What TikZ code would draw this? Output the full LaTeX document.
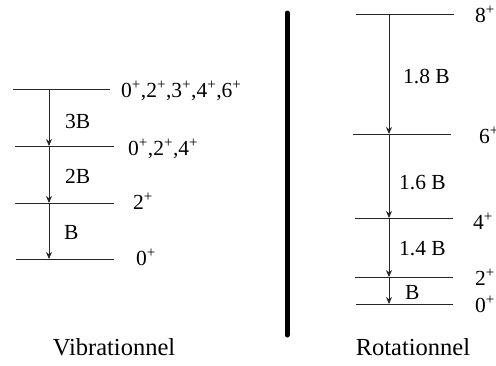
\documentclass[tikz,border=0pt]{standalone}
\usepackage{fontspec}
\setmainfont{Liberation Serif}
\usetikzlibrary{arrows.meta}
\newcommand{\p}{\textsuperscript{+}}
\begin{document}
\begin{tikzpicture}[x=1pt,y=-1pt,
  levelline/.style={line width=0.9pt,draw=black!85},
  trans/.style={line width=0.8pt,draw=black!85,-{Stealth[length=7pt,width=6pt]}},
  lab/.style={font=\fontsize{21.5}{23}\selectfont,inner sep=0pt,anchor=base west},
  title/.style={font=\fontsize{24.5}{27}\selectfont,inner sep=0pt,anchor=base}]
\useasboundingbox (0,0) rectangle (496,365);
% vibrational
\coordinate (v1) at (49,89);
\coordinate (v2) at (49,146);
\coordinate (v3) at (49,203);
\coordinate (v4) at (49,259);
\draw[levelline] (13,89) -- (110,89);
\draw[levelline] (15,146) -- (114,146);
\draw[levelline] (15,203) -- (114,203);
\draw[levelline] (16,259) -- (114,259);
\draw[trans] (v1) -- (v2);
\draw[trans] (v2) -- (v3);
\draw[trans] (v3) -- (v4);
\node[lab] (l3b) at (65,128) {3B};
\node[lab] (l2b) at (65,183) {2B};
\node[lab] (l1b) at (64,239) {B};
\node[lab] (s1) at (121,97) {0\p,2\p,3\p,4\p,6\p};
\node[lab] (s2) at (128,155) {0\p,2\p,4\p};
\node[lab] (s3) at (133,209) {2\p};
\node[lab] (s4) at (136,265) {0\p};
% separator
\draw[line width=5pt,line cap=round] (287,13) -- (287,335);
% rotational
\coordinate (r8) at (389,14);
\coordinate (r6) at (389,134);
\coordinate (r4) at (389,218);
\coordinate (r2) at (389,277);
\coordinate (r0) at (389,304);
\draw[levelline] (356,14) -- (454,14);
\draw[levelline] (353,134) -- (451,134);
\draw[levelline] (355,218) -- (453,218);
\draw[levelline] (355,277) -- (453,277);
\draw[levelline] (356,304) -- (453,304);
\draw[trans] (r8) -- (r6);
\draw[trans] (r6) -- (r4);
\draw[trans] (r4) -- (r2);
\draw[trans] (r2) -- (r0);
\node[lab] (e18) at (403,83) {1.8 B};
\node[lab] (e16) at (399,189) {1.6 B};
\node[lab] (e14) at (399,255) {1.4 B};
\node[lab] (e1) at (405,299) {B};
\node[lab] (j8) at (475,22) {8\p};
\node[lab] (j6) at (479,143) {6\p};
\node[lab] (j4) at (473,229) {4\p};
\node[lab] (j2) at (475,285) {2\p};
\node[lab] (j0) at (475,312) {0\p};
% titles
\node[title] (tv) at (114,355) {Vibrationnel};
\node[title] (tr) at (413,355) {Rotationnel};
\end{tikzpicture}
\end{document}
